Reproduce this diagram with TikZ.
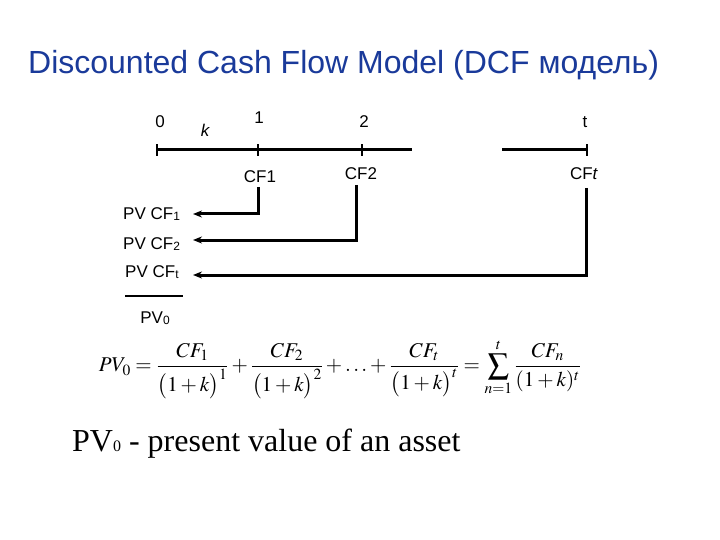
\documentclass[tikz,border=0pt]{standalone}
\usepackage{mathptmx}
\usepackage{fontspec}
\setmainfont{Liberation Serif}
\newfontfamily\arialf{Liberation Sans}
\usetikzlibrary{arrows.meta}
\definecolor{titleblue}{HTML}{1A3A9A}
\begin{document}
\begin{tikzpicture}[x=1pt,y=-1pt,
  lbl/.style={font=\arialf\fontsize{17}{19}\selectfont, inner sep=0pt},
  axis/.style={line width=3pt},
  arr/.style={line width=3pt, -{Stealth[length=9pt,width=7pt]}}]
\useasboundingbox (0,0) rectangle (720,540);
\newcommand{\smallsub}[1]{\raisebox{-1pt}{\fontsize{12}{12}\selectfont #1}}
\newcommand{\opk}{\bigl(1+k\bigr)}
% title
\node[anchor=base west, inner sep=0pt, text=titleblue, font=\arialf\fontsize{32}{36}\selectfont] (title) at (28,74) {Discounted Cash Flow Model (DCF модель)};
% timeline
\coordinate (t0) at (157,150);
\coordinate (t1) at (258,150);
\coordinate (t2) at (362,150);
\coordinate (te) at (412,150);
\coordinate (ts) at (502,150);
\coordinate (tt) at (587,150);
\draw[axis] (t0) -- (te);
\draw[axis] (ts) -- (tt);
\foreach \p in {t0,t1,t2,tt} \draw[line width=2.5pt] ([yshift=-6pt]\p) -- ([yshift=6pt]\p);
% tick labels
\node[lbl] (l0) at (160,122) {0};
\node[lbl] (lk) at (205,130) {\itshape k};
\node[lbl] (l1) at (259,118) {1};
\node[lbl] (l2) at (364,122) {2};
\node[lbl] (lt) at (585,122) {t};
% cash flows
\node[lbl] (cf1) at (260,177) {CF1};
\node[lbl] (cf2) at (361,174) {CF2};
\node[lbl] (cft) at (584,174) {CF\textit{t}};
% PV labels
\node[lbl, anchor=west] (pv1) at (123,214) {PV CF\smallsub{1}};
\node[lbl, anchor=west] (pv2) at (123,244) {PV CF\smallsub{2}};
\node[lbl, anchor=west] (pvt) at (125,272) {PV CF\smallsub{t}};
\draw[line width=2.5pt] (125,296) -- (183,296);
\node[lbl] (pv0) at (155,318) {PV\smallsub{0}};
% connectors
\coordinate (c1) at (258,187);
\coordinate (c2) at (356,185);
\coordinate (c3) at (586,188);
\draw[arr] (c1) |- (193,214);
\draw[arr] (c2) |- (193,240);
\draw[arr] (c3) |- (193,275);
% formula
\node[inner sep=0pt, font=\fontsize{21}{25}\selectfont] (formula) at (340,369)
  {$\displaystyle PV_0=\frac{CF_1}{\opk^1}+\frac{CF_2}{\opk^2}+\ldots+\frac{CF_t}{\opk^t}=\sum_{n=1}^{t}\frac{CF_n}{(1+k)^t}$};
% caption
\node[anchor=base west, inner sep=0pt, font=\fontsize{32}{36}\selectfont] (cap) at (72,451) {PV\raisebox{0pt}{\fontsize{16}{16}\selectfont 0} - present value of an asset};
\end{tikzpicture}
\end{document}
